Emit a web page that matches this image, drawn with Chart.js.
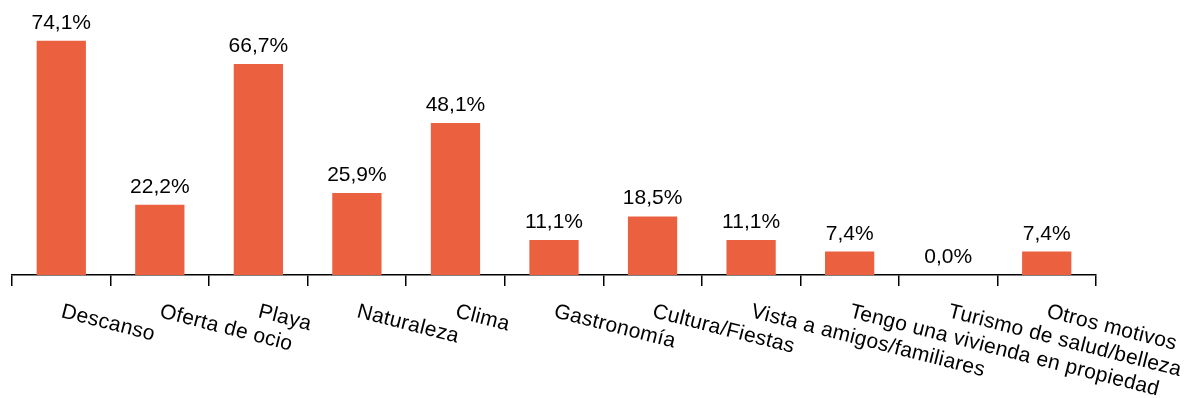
<!DOCTYPE html>
<html>
<head>
<meta charset="utf-8">
<script src="https://cdn.jsdelivr.net/npm/chart.js@4.4.1/dist/chart.umd.min.js"></script>
<style>
  html, body { margin: 0; padding: 0; background: #fff; }
  #wrap { width: 1190px; height: 398px; position: relative; }
</style>
</head>
<body>
<div id="wrap"><canvas id="c" width="1190" height="398"></canvas></div>
<script>
const categories = [
  'Descanso', 'Oferta de ocio', 'Playa', 'Naturaleza', 'Clima', 'Gastronomía',
  'Cultura/Fiestas', 'Vista a amigos/familiares', 'Tengo una vivienda en propiedad',
  'Turismo de salud/belleza', 'Otros motivos'
];
const percentages = [74.1, 22.2, 66.7, 25.9, 48.1, 11.1, 18.5, 11.1, 7.4, 0.0, 7.4];

const FONT = '"Liberation Sans", Arial, sans-serif';
const BAR_COLOR = '#EB6140';

const fmt = v => v.toFixed(1).replace('.', ',') + '%';

// Values above each bar
const valueLabels = {
  id: 'valueLabels',
  afterDatasetsDraw(chart) {
    const ctx = chart.ctx;
    const meta = chart.getDatasetMeta(0);
    ctx.save();
    ctx.fillStyle = '#000';
    ctx.font = '21px ' + FONT;
    ctx.textAlign = 'center';
    ctx.textBaseline = 'alphabetic';
    meta.data.forEach((bar, i) => {
      ctx.fillText(fmt(percentages[i]), bar.x, bar.y - 12);
    });
    ctx.restore();
  }
};

// Slanted category names, starting at each category centre
const slantedLabels = {
  id: 'slantedLabels',
  afterDraw(chart) {
    const ctx = chart.ctx;
    const x = chart.scales.x;
    ctx.save();
    ctx.fillStyle = '#000';
    ctx.font = '21px ' + FONT;
    ctx.textAlign = 'left';
    ctx.textBaseline = 'alphabetic';
    if ('letterSpacing' in ctx) ctx.letterSpacing = '0.3px';
    categories.forEach((name, i) => {
      const px = x.getPixelForValue(i);
      ctx.save();
      ctx.translate(px - 1, 317);
      ctx.rotate(14.3 * Math.PI / 180);
      ctx.fillText(name, 0, 0);
      ctx.restore();
    });
    ctx.restore();
  }
};

new Chart(document.getElementById('c'), {
  type: 'bar',
  data: {
    labels: categories,
    datasets: [{
      data: percentages,
      backgroundColor: BAR_COLOR,
      borderWidth: 0,
      barPercentage: 1,
      categoryPercentage: 0.5
    }]
  },
  options: {
    responsive: false,
    animation: false,
    devicePixelRatio: 1,
    layout: { padding: { left: 12, right: 94, top: 22, bottom: 0 } },
    plugins: { legend: { display: false }, tooltip: { enabled: false } },
    scales: {
      x: {
        ticks: { display: false },
        grid: {
          display: true,
          offset: true,
          drawOnChartArea: false,
          drawTicks: true,
          tickLength: 11,
          color: '#000',
          lineWidth: 1.5
        },
        border: { display: true, color: '#000', width: 1.5 },
        afterFit(scale) { scale.height = 123; }
      },
      y: {
        display: false,
        min: 0,
        max: 80
      }
    }
  },
  plugins: [valueLabels, slantedLabels]
});
</script>
</body>
</html>
